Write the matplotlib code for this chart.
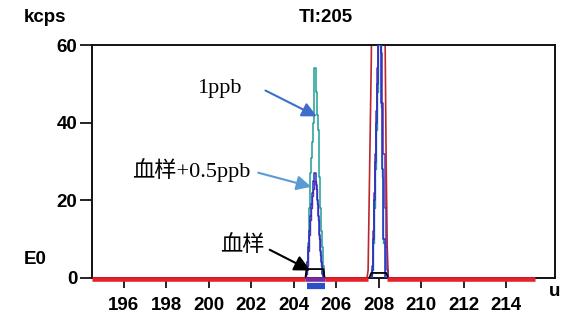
"""Recreate the TI:205 chromatogram (kcps vs time) with annotated peaks."""

import matplotlib
matplotlib.use("Agg")
import matplotlib.pyplot as plt

# ---- data -------------------------------------------------------------
# peak 1 (around 205), sampled every 0.05 unit
p1_t = [204.55, 204.6, 204.65, 204.7, 204.75, 204.8, 204.85, 204.9, 204.95, 205.0,
        205.05, 205.1, 205.15, 205.2, 205.25, 205.3, 205.35, 205.4, 205.45]
p1_ppb = [0, 1, 4, 9, 18, 27, 31, 35, 40, 54, 48, 42, 38, 26, 18, 12, 8, 3, 0]     # 1ppb (teal)
p1_spike = [0, 1, 4, 8, 12, 16, 19, 22, 25, 27, 24, 20, 16, 11, 7, 4, 1, 0, 0]     # 血样+0.5ppb
p1_spike2 = [0, 1, 3, 7, 11, 15, 18, 21, 23, 25, 23, 19, 15, 10, 6, 3, 1, 0, 0]    # replicate
p1_blood = [0, 2.3, 2.3, 2.3, 2.3, 2.3, 2.3, 2.3, 2.3, 2.3,
            2.3, 2.3, 2.3, 2.3, 2.3, 2.3, 2.3, 2.3, 0]                                  # 血样

# peak 2 (around 208)
p2_t = [207.45, 207.5, 207.55, 207.6, 207.65, 207.7, 207.75, 207.8, 207.85, 207.9, 207.95,
        208.0, 208.05, 208.1, 208.15, 208.2, 208.25, 208.3, 208.35, 208.4, 208.45, 208.5]
p2_red = [0, 2, 20, 38, 56, 90, 140, 200, 260, 320, 380,
          400, 380, 320, 260, 200, 140, 62, 30, 8, 0, 0]
p2_blue = [0, 0, 0, 0, 0, 2, 10, 20, 30, 40, 50,
           62, 72, 64, 45, 28, 10, 0, 0, 0, 0, 0]
p2_purple = [0, 0, 0, 0, 0, 3, 12, 22, 32, 43, 54,
             66, 75, 70, 58, 45, 32, 18, 8, 2, 0, 0]
p2_teal = [0, 0, 0, 0, 0, 2, 9, 18, 28, 38, 48,
           60, 70, 62, 44, 26, 9, 0, 0, 0, 0, 0]
p2_black = [0, 0, 0, 0.6, 1.3, 1.3, 1.3, 1.3, 1.3, 1.3, 1.3,
            1.3, 1.3, 1.3, 1.3, 1.3, 1.3, 1.3, 1.3, 0.6, 0, 0]

# baseline (integration window) segments
base_red = [(194.5, 204.55), (205.45, 207.5), (208.4, 215.35)]
base_purple = (204.55, 205.45)
window_blue = (204.6, 205.45)

x_ticks = [196, 198, 200, 202, 204, 206, 208, 210, 212, 214]
y_ticks = [0, 20, 40, 60]

TEAL = "#1f9e94"
BLUE = "#2233c4"
PURPLE = "#7a2a9e"
RED = "#e8202a"
DARKRED = "#b8282c"

TICK_FONT = dict(family="Liberation Sans", weight="bold", size=13.5)
ANN_FONT = ["Liberation Serif", "Noto Sans CJK SC"]

fig = plt.figure(figsize=(5.61, 3.2), dpi=100)
ax = fig.add_axes([92 / 561, 1 - 278 / 320, (555 - 92) / 561, (278 - 45) / 320])

# peaks
ax.plot(p2_t, p2_red, color=DARKRED, lw=1.2, zorder=2)
ax.plot(p2_t, p2_teal, color=TEAL, lw=1.0, drawstyle="steps-mid", zorder=3)
ax.plot(p2_t, p2_purple, color=PURPLE, lw=1.1, drawstyle="steps-mid", zorder=3)
ax.plot(p2_t, p2_blue, color=BLUE, lw=1.1, drawstyle="steps-mid", zorder=4)
ax.plot(p2_t, p2_black, color="black", lw=1.3, zorder=5)

ax.plot(p1_t, p1_ppb, color=TEAL, lw=1.1, drawstyle="steps-mid", zorder=3)
ax.plot(p1_t, p1_spike2, color=PURPLE, lw=1.0, drawstyle="steps-mid", zorder=3)
ax.plot(p1_t, p1_spike, color=BLUE, lw=1.1, drawstyle="steps-mid", zorder=4)
ax.plot(p1_t, p1_blood, color="black", lw=1.3, zorder=5)

# thick baseline markers
for x0, x1 in base_red:
    ax.plot([x0, x1], [-0.25, -0.25], color=RED, lw=3.3, solid_capstyle="butt",
            clip_on=False, zorder=6)
ax.plot(list(base_purple), [-0.25, -0.25], color=PURPLE, lw=3.3, solid_capstyle="butt",
        clip_on=False, zorder=6)
ax.plot(list(window_blue), [-2.1, -2.1], color="#2a4fc8", lw=4.5, solid_capstyle="butt",
        clip_on=False, zorder=6)

ax.set_xlim(194.5, 216.3)
ax.set_ylim(0, 60)
ax.set_xticks(x_ticks)
ax.set_yticks(y_ticks)
ax.set_xticklabels([str(v) for v in x_ticks], fontdict=TICK_FONT)
ax.set_yticklabels([str(v) for v in y_ticks], fontdict=TICK_FONT)
ax.tick_params(axis="x", direction="out", length=7.5, width=1.2, pad=6)
ax.tick_params(axis="y", direction="out", length=8.5, width=1.2, pad=2)
for spine in ax.spines.values():
    spine.set_linewidth(1.4)
    spine.set_color("#111111")

# annotations
ax.text(200.5, 48.7, "1ppb", family=ANN_FONT, fontsize=16, ha="center", va="center")
ax.annotate("", xy=(205.2, 41.3), xytext=(202.55, 48.6),
            arrowprops=dict(arrowstyle="-|>", color="#3d6fc9", lw=1.5, mutation_scale=22))
ax.text(199.15, 27.9, "血样+0.5ppb", family=ANN_FONT, fontsize=16, ha="center", va="center")
ax.annotate("", xy=(204.95, 23.3), xytext=(202.2, 27.3),
            arrowprops=dict(arrowstyle="-|>", color="#5b9bd5", lw=1.5, mutation_scale=22))
ax.text(201.6, 8.3, "血样", family=ANN_FONT, fontsize=16, ha="center", va="center")
ax.annotate("", xy=(204.9, 1.6), xytext=(202.75, 7.6),
            arrowprops=dict(arrowstyle="-|>", color="black", lw=1.5, mutation_scale=24),
            zorder=7)

fig.text(45 / 561, 1 - 17 / 320, "kcps", ha="center", va="center", **TICK_FONT)
fig.text(326 / 561, 1 - 17 / 320, "TI:205", ha="center", va="center", **TICK_FONT)
fig.text(35 / 561, 1 - 259 / 320, "E0", ha="center", va="center", **TICK_FONT)
fig.text(549 / 561, 1 - 292 / 320, "u", ha="left", va="center", **TICK_FONT)

fig.savefig("out.png", dpi=100)
